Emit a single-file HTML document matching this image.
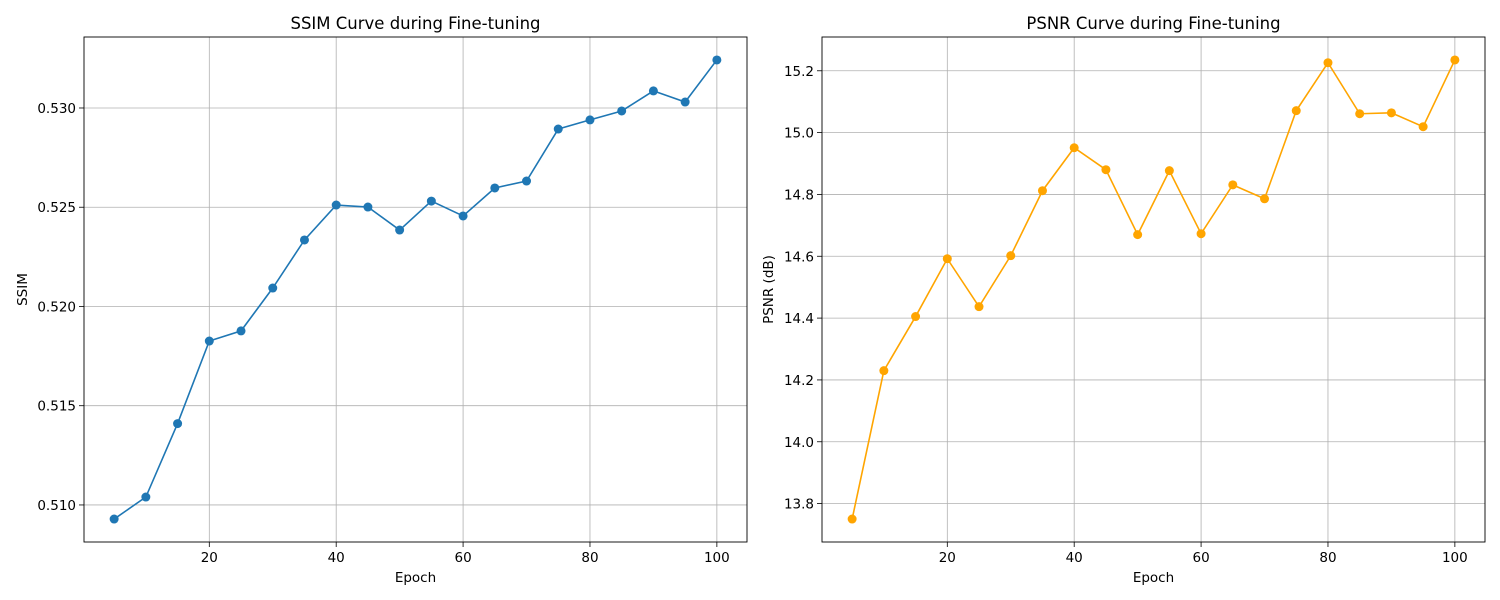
<!DOCTYPE html>
<html><head><meta charset="utf-8"><style>
body{margin:0;background:#fff;}
svg{display:block;font-family:"DejaVu Sans","Liberation Sans",sans-serif;}
</style></head><body>
<svg id="c" width="1500" height="600" xmlns="http://www.w3.org/2000/svg"></svg>
<script>
const epochs=[5,10,15,20,25,30,35,40,45,50,55,60,65,70,75,80,85,90,95,100];
const ssimValues=[0.50929,0.5104,0.5141,0.51826,0.51877,0.52093,0.52335,0.52511,0.52501,0.52385,0.52531,0.52456,0.52597,0.52632,0.52894,0.5294,0.52985,0.53086,0.5303,0.53242];
const psnrValues=[13.75,14.23,14.405,14.592,14.437,14.602,14.812,14.951,14.88,14.67,14.877,14.673,14.831,14.786,15.071,15.226,15.061,15.064,15.019,15.235];
const xTicks=[20,40,60,80,100];
const ssimTicks=[0.510,0.515,0.520,0.525,0.530];
const psnrTicks=[13.8,14.0,14.2,14.4,14.6,14.8,15.0,15.2];
const NS="http://www.w3.org/2000/svg";
const svg=document.getElementById('c');
function el(t,a,p){const e=document.createElementNS(NS,t);for(const k in a)e.setAttribute(k,a[k]);(p||svg).appendChild(e);return e;}
function panel(o){
  const g=el('g',{});
  
  
  const ymin=Math.min(...o.vals),ymax=Math.max(...o.vals),yr=ymax-ymin;
  const y0=ymin-0.05*yr,y1=ymax+0.05*yr;
  const x0=0.25,x1=104.75;
  const X=v=>o.L+(v-x0)/(x1-x0)*(o.R-o.L);
  const Y=v=>o.B-(v-y0)/(y1-y0)*(o.B-o.T);
  xTicks.forEach(t=>{const x=X(t);
    const l=el('line',{x1:x,x2:x,y1:o.T,y2:o.B,stroke:'#b0b0b0','stroke-width':0.8},g);
    
    el('line',{x1:x,x2:x,y1:o.B,y2:o.B+5,stroke:'#000','stroke-width':0.8},g);
    const tx=el('text',{x:x,y:o.B+20,'text-anchor':'middle','font-size':13.5},g);tx.textContent=t;
    });
  o.ticks.forEach(t=>{const y=Y(t);
    const l=el('line',{x1:o.L,x2:o.R,y1:y,y2:y,stroke:'#b0b0b0','stroke-width':0.8},g);
    
    el('line',{x1:o.L-5,x2:o.L,y1:y,y2:y,stroke:'#000','stroke-width':0.8},g);
    const tx=el('text',{x:o.L-8,y:y+5,'text-anchor':'end','font-size':13.5},g);tx.textContent=t.toFixed(o.dec);
    });
  const pts=epochs.map((e,i)=>X(e)+','+Y(o.vals[i])).join(' ');
  const pl=el('polyline',{points:pts,fill:'none',stroke:o.color,'stroke-width':1.6},g);
  
  epochs.forEach((e,i)=>{const c=el('circle',{cx:X(e),cy:Y(o.vals[i]),r:4.5,fill:o.color},g);
    });
  const fr=el('rect',{x:o.L,y:o.T,width:o.R-o.L,height:o.B-o.T,fill:'none',stroke:'#000','stroke-width':0.9},g);
  
  const ti=el('text',{x:(o.L+o.R)/2,y:o.T-8,'text-anchor':'middle','font-size':16.5},g);ti.textContent=o.title;
  
  const xl=el('text',{x:(o.L+o.R)/2,y:o.B+40,'text-anchor':'middle','font-size':13.5},g);xl.textContent='Epoch';
  
  const yl=el('text',{x:0,y:0,'text-anchor':'middle','font-size':13.5,transform:`translate(${o.ylx},${(o.T+o.B)/2}) rotate(-90)`},g);yl.textContent=o.ylabel;
  
}
panel({name:'ssim-panel',L:84,R:747,T:37,B:542,vals:ssimValues,ticks:ssimTicks,dec:3,color:'#1f77b4',title:'SSIM Curve during Fine-tuning',ylabel:'SSIM',ylx:27});
panel({name:'psnr-panel',L:822,R:1485,T:37,B:542,vals:psnrValues,ticks:psnrTicks,dec:1,color:'#ffa500',title:'PSNR Curve during Fine-tuning',ylabel:'PSNR (dB)',ylx:773});
</script>
</body></html>
